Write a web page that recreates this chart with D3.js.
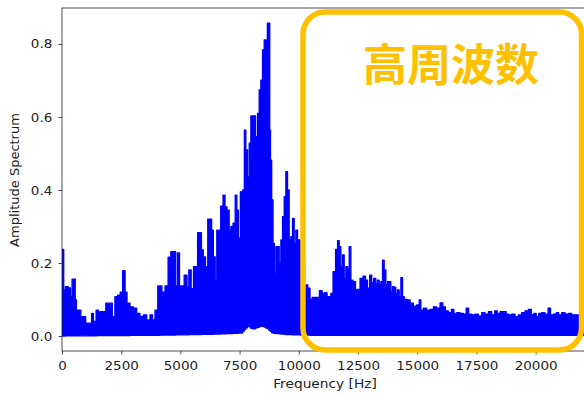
<!DOCTYPE html>
<html>
<head>
<meta charset="utf-8">
<script src="https://cdn.jsdelivr.net/npm/d3@7"></script>
<style>
  html, body { margin: 0; padding: 0; background: #fff; }
  svg { display: block; }
  .tick text { font-family: "DejaVu Sans", sans-serif; font-size: 12.5px; fill: #222; }
</style>
</head>
<body>
<svg id="chart" width="584" height="394"></svg>
<script>
// Upper envelope of the amplitude spectrum (frequency in Hz, amplitude)
const upperFreq = [
  0, 56, 90, 197, 330, 380, 470, 540, 577, 640, 760, 830, 950, 1050, 1230, 1270, 1310, 1350, 1420, 1460,
  1520, 1560, 1640, 1800, 1900, 2080, 2168, 2300, 2400, 2520, 2600, 2640, 2689, 2801, 2942, 3083, 3223, 3364, 3505, 3646,
  3787, 3857, 3998, 4090, 4160, 4279, 4420, 4540, 4650, 4760, 4842, 4913, 5012, 5124,
  5194, 5250, 5307, 5405, 5504, 5600, 5690, 5760, 5850, 5926, 6010, 6109, 6200, 6290, 6348, 6433, 6503, 6570, 6660, 6743,
  6855, 6912, 7024, 7095, 7165, 7278, 7348, 7419, 7475, 7587, 7672, 7728, 7798, 7869, 7939, 8010, 8122, 8221, 8291, 8361,
  8432, 8502, 8573, 8643, 8700, 8760, 8784, 8826, 8883, 8939, 8995, 9066, 9136, 9206, 9277, 9347, 9417, 9488, 9558, 9628,
  9699, 9769, 9840, 9910, 9980, 10150, 10332, 10431, 10515, 10600, 10712, 10800, 10938, 11036, 11135, 11248, 11318, 11388, 11501, 11600,
  11670, 11740, 11811, 11881, 11951, 12022, 12092, 12162, 12233, 12345, 12444, 12514, 12655, 12767, 12866, 12936, 13049, 13105, 13218, 13288,
  13358, 13429, 13499, 13569, 13640, 13710, 13780, 13851, 13921, 13991, 14062, 14133, 14203, 14274, 14345, 14414, 14485, 14626, 14767, 14907,
  15048, 15118, 15189, 15330, 15470, 15611, 15752, 15893, 16033, 16132, 16245, 16385, 16498, 16596, 16737, 16878, 17019, 17117, 17230, 17371,
  17511, 17652, 17793, 17934, 18074, 18215, 18328, 18426, 18567, 18708, 18806, 18919, 19060, 19200, 19341, 19482, 19623, 19764, 19876, 19975,
  20073, 20186, 20327, 20467, 20580, 20679, 20819, 20918, 21030, 21171, 21312, 21453, 21593, 21734, 22050
];
const upperAmp = [
  0.237, 0.237, 0.126, 0.135, 0.132, 0.108, 0.156, 0.156, 0.099, 0.071, 0.071, 0.053, 0.053, 0.035, 0.035, 0.062, 0.062, 0.040, 0.040, 0.071,
  0.071, 0.062, 0.067, 0.067, 0.090, 0.090, 0.053, 0.108, 0.112, 0.120, 0.179, 0.179, 0.120, 0.090, 0.080, 0.076, 0.062, 0.053, 0.058, 0.044,
  0.058, 0.044, 0.071, 0.137, 0.137, 0.120, 0.137, 0.216, 0.231, 0.231, 0.137, 0.228, 0.137, 0.137,
  0.167, 0.167, 0.135, 0.181, 0.130, 0.190, 0.190, 0.283, 0.283, 0.236, 0.217, 0.190, 0.320, 0.320, 0.290, 0.217, 0.153, 0.290, 0.290, 0.356,
  0.386, 0.354, 0.345, 0.290, 0.300, 0.309, 0.386, 0.345, 0.268, 0.395, 0.400, 0.564, 0.510, 0.436, 0.528, 0.603, 0.603, 0.546, 0.610, 0.674,
  0.701, 0.784, 0.811, 0.811, 0.857, 0.857, 0.564, 0.482, 0.373, 0.254, 0.172, 0.245, 0.245, 0.199, 0.263, 0.327, 0.382, 0.450, 0.400, 0.263,
  0.272, 0.322, 0.254, 0.290, 0.263, 0.200, 0.140, 0.131, 0.099, 0.106, 0.106, 0.106, 0.124, 0.117, 0.119, 0.108, 0.108, 0.117, 0.176, 0.237,
  0.261, 0.245, 0.190, 0.222, 0.158, 0.190, 0.185, 0.245, 0.153, 0.149, 0.126, 0.128, 0.158, 0.164, 0.153, 0.131, 0.167, 0.146, 0.158, 0.144,
  0.153, 0.140, 0.149, 0.208, 0.181, 0.140, 0.149, 0.149, 0.121, 0.135, 0.133, 0.115, 0.126, 0.108, 0.160, 0.108, 0.100, 0.099, 0.090, 0.082,
  0.085, 0.099, 0.071, 0.076, 0.071, 0.073, 0.080, 0.076, 0.091, 0.080, 0.069, 0.064, 0.073, 0.062, 0.064, 0.062, 0.060, 0.076, 0.060, 0.058,
  0.060, 0.055, 0.064, 0.060, 0.067, 0.058, 0.069, 0.062, 0.067, 0.067, 0.060, 0.058, 0.060, 0.053, 0.058, 0.064, 0.069, 0.073, 0.058, 0.062,
  0.053, 0.062, 0.064, 0.060, 0.076, 0.058, 0.060, 0.064, 0.058, 0.064, 0.060, 0.062, 0.058, 0.058, 0.055
];

// Lower envelope (noise floor) of the spectrum
const lowerFreq = [0, 2000, 4000, 5000, 6500, 7600, 7750, 7900, 8050, 8300, 8450, 8700, 8900, 9500, 10500, 14000, 22050];
const lowerAmp  = [0.000, 0.001, 0.002, 0.003, 0.005, 0.008, 0.020, 0.028, 0.018, 0.024, 0.028, 0.020, 0.008, 0.004, 0.002, 0.002, 0.002];

const xTicks = [0, 2500, 5000, 7500, 10000, 12500, 15000, 17500, 20000];
const yTicks = [0.0, 0.2, 0.4, 0.6, 0.8];

const xLabel = "Frequency [Hz]";
const yLabel = "Amplitude Spectrum";
const boxLabel = "高周波数";

const svg = d3.select("#chart");

const x = d3.scaleLinear().domain([0, 22050]).range([62, 584.2]);
const y = d3.scaleLinear().domain([-0.0411, 0.8986]).range([351, 8]);
const floorAt = d3.scaleLinear().domain(lowerFreq).range(lowerAmp).clamp(true);

// Plot area clip
svg.append("defs").append("clipPath").attr("id", "plotClip")
  .append("rect").attr("x", 62).attr("y", 8).attr("width", 600).attr("height", 343);

const spectrum = upperFreq.map((f, i) => ({ f, top: upperAmp[i], bottom: floorAt(f) }));

const area = d3.area()
  .x(d => x(d.f))
  .y0(d => y(d.bottom))
  .y1(d => y(d.top))
  .curve(d3.curveStep);

svg.append("path")
  .attr("clip-path", "url(#plotClip)")
  .attr("d", area(spectrum))
  .attr("fill", "#0000ff")
  .attr("stroke", "#0000ff")
  .attr("stroke-width", 1.3)
  .attr("stroke-linejoin", "round");

// Axes
const xAxis = d3.axisBottom(x).tickValues(xTicks).tickFormat(d3.format("d")).tickSize(3.5).tickPadding(7);
const yAxis = d3.axisLeft(y).tickValues(yTicks).tickFormat(d3.format(".1f")).tickSize(3.5).tickPadding(5.5);

const gx = svg.append("g").attr("transform", "translate(0,351)").call(xAxis);
const gy = svg.append("g").attr("transform", "translate(62,0)").call(yAxis);
[gx, gy].forEach(g => {
  g.select(".domain").remove();
  g.selectAll(".tick line").attr("stroke", "#222").attr("stroke-width", 0.8);
  g.selectAll(".tick text").attr("transform", "scale(1.08,1)");
});

// Frame (spines)
svg.append("rect")
  .attr("x", 62).attr("y", 8).attr("width", 600).attr("height", 343)
  .attr("fill", "none").attr("stroke", "#222").attr("stroke-width", 0.8);

// Axis labels
svg.append("text")
  .attr("transform", "translate(325,387.5) scale(1.1,1)")
  .attr("text-anchor", "middle")
  .attr("font-family", "DejaVu Sans, sans-serif").attr("font-size", 12.5).attr("fill", "#222")
  .text(xLabel);

svg.append("text")
  .attr("transform", "translate(18.5,180) rotate(-90)")
  .attr("text-anchor", "middle")
  .attr("font-family", "DejaVu Sans, sans-serif").attr("font-size", 13).attr("fill", "#222")
  .text(yLabel);

// Highlighted high-frequency region
svg.append("rect")
  .attr("x", 303).attr("y", 12).attr("width", 278.5).attr("height", 338)
  .attr("rx", 22).attr("ry", 22)
  .attr("fill", "none").attr("stroke", "#ffc000").attr("stroke-width", 5.5);

svg.append("text")
  .attr("x", 451).attr("y", 62)
  .attr("text-anchor", "middle").attr("dominant-baseline", "central")
  .attr("font-family", "Noto Sans CJK SC, sans-serif").attr("font-weight", "bold").attr("font-size", 44)
  .attr("fill", "#ffc000")
  .text(boxLabel);
</script>
</body>
</html>
